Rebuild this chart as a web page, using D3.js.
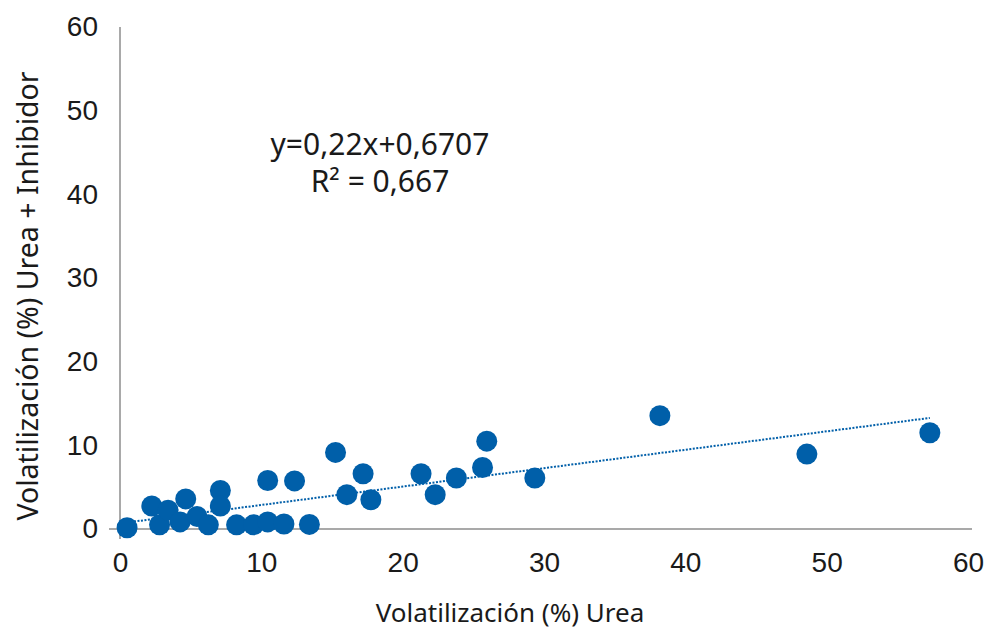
<!DOCTYPE html>
<html>
<head>
<meta charset="utf-8">
<script src="https://cdn.jsdelivr.net/npm/d3@7"></script>
<style>
  body { margin: 0; background: #fff; }
  svg { display: block; font-family: "Noto Sans", sans-serif; }
  .tick text { fill: #1a1a1a; }
</style>
</head>
<body>
<svg width="987" height="632"></svg>
<script>
// Volatilización (%) Urea vs Urea + Inhibidor
var urea = [0.5, 2.25, 2.8, 3.4, 4.25, 4.65, 5.45, 6.25, 7.1, 7.1,
            8.25, 9.45, 10.45, 10.45, 11.6, 12.35, 13.4, 15.25, 16.05, 17.2,
            17.75, 21.3, 22.3, 23.8, 25.65, 25.95, 29.35, 38.2, 48.6, 57.3];
var ureaInhib = [0.15, 2.75, 0.5, 2.25, 0.85, 3.6, 1.5, 0.5, 4.6, 2.75,
                 0.5, 0.5, 0.85, 5.8, 0.6, 5.75, 0.55, 9.15, 4.1, 6.6,
                 3.5, 6.6, 4.1, 6.1, 7.35, 10.5, 6.1, 13.55, 8.95, 11.5];
var ticks = [0, 10, 20, 30, 40, 50, 60];
var slope = 0.22, intercept = 0.6707;
var eqLabels = ["y=0,22x+0,6707", "R\u00b2 = 0,667"];

var svg = d3.select("svg");
var blue = "#005fa9", axisColor = "#8c8c8c";

var x = d3.scaleLinear().domain([0, 60]).range([120, 968]);
var y = d3.scaleLinear().domain([0, 60]).range([529, 27]);

var data = urea.map(function(d, i) { return {x: d, y: ureaInhib[i]}; });

// axes (Excel style: no tick marks, line a bit past the crossing)
var xAxis = svg.append("g")
    .attr("transform", "translate(0," + y(0) + ")")
    .call(d3.axisBottom(x).tickValues(ticks).tickSize(0).tickPadding(23));
xAxis.select(".domain").remove();
xAxis.selectAll("text").attr("font-size", 28);

var yAxis = svg.append("g")
    .attr("transform", "translate(" + x(0) + ",0)")
    .call(d3.axisLeft(y).tickValues(ticks).tickSize(0).tickPadding(22));
yAxis.select(".domain").remove();
yAxis.selectAll("text").attr("font-size", 28);

svg.append("line")
    .attr("x1", x(0) - 11).attr("x2", x(60) + 4)
    .attr("y1", y(0)).attr("y2", y(0))
    .attr("stroke", axisColor).attr("stroke-width", 1.5);
svg.append("line")
    .attr("x1", x(0)).attr("x2", x(0))
    .attr("y1", y(60)).attr("y2", y(0) + 10)
    .attr("stroke", axisColor).attr("stroke-width", 1.5);

// trend line
var xMin = d3.min(urea), xMax = d3.max(urea);
svg.append("line")
    .attr("x1", x(xMin)).attr("y1", y(slope * xMin + intercept))
    .attr("x2", x(xMax)).attr("y2", y(slope * xMax + intercept))
    .attr("stroke", blue).attr("stroke-width", 2)
    .attr("stroke-dasharray", "2,1.5");

// points
svg.append("g").selectAll("circle")
    .data(data)
    .enter().append("circle")
      .attr("cx", function(d) { return x(d.x); })
      .attr("cy", function(d) { return y(d.y); })
      .attr("r", 10.5)
      .attr("fill", blue);

// equation
svg.append("g").selectAll("text")
    .data(eqLabels)
    .enter().append("text")
      .attr("x", 380)
      .attr("y", function(d, i) { return 155 + i * 37; })
      .attr("text-anchor", "middle")
      .attr("font-size", 30)
      .attr("fill", "#1a1a1a")
      .text(function(d) { return d; });

// axis titles
svg.append("text")
    .attr("x", 510).attr("y", 622)
    .attr("text-anchor", "middle")
    .attr("font-size", 26)
    .attr("fill", "#1a1a1a")
    .text("Volatilización (%) Urea");

svg.append("text")
    .attr("transform", "translate(38,296) rotate(-90)")
    .attr("text-anchor", "middle")
    .attr("font-size", 28.5)
    .attr("fill", "#1a1a1a")
    .text("Volatilización (%) Urea + Inhibidor");
</script>
</body>
</html>
